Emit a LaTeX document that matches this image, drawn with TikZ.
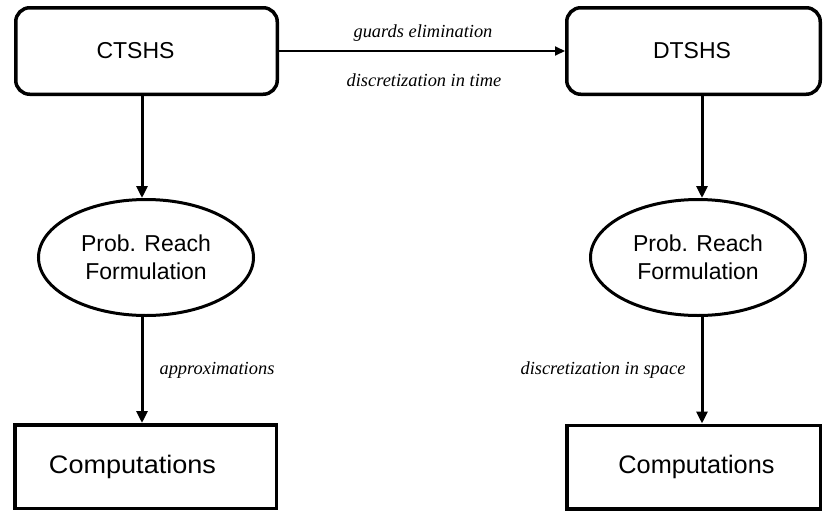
\documentclass[tikz,border=0pt]{standalone}
\usepackage{fontspec}
\usepackage{graphicx}
\setmainfont{Liberation Serif}
\setsansfont{Liberation Sans}
\usetikzlibrary{shapes.geometric,arrows.meta}
\begin{document}
\begin{tikzpicture}[x=1pt,y=-1pt,
  txt/.style={font=\sffamily\fontsize{23}{28}\selectfont},
  box/.style={draw, line width=3.5pt, minimum height=83.5pt, inner sep=0pt, font=\sffamily\fontsize{25.3}{30}\selectfont},
  rbox/.style={txt, draw, line width=3.5pt, inner sep=0pt, rounded corners=14pt, minimum height=86.5pt},
  ell/.style={txt, draw, ellipse, line width=3pt, minimum width=215pt, minimum height=116pt, inner sep=0pt, align=center},
  lab/.style={font=\itshape\fontsize{18.4}{22}\selectfont},
  arr/.style={-{Triangle[length=12pt,width=11pt]}, line width=3pt},
  harr/.style={-{Triangle[length=10pt,width=9pt]}, line width=2pt}]
\useasboundingbox (0,0) rectangle (823,515);
\node[rbox, minimum width=261.5pt] (ct) at (146.5,51) {\hspace*{-22pt}CTSHS};
\node[rbox, minimum width=253.5pt] (dt) at (693.5,51) {\hspace*{-3pt}DTSHS};
\node[ell] (pl) at (146,257.5) {Prob. Reach\\Formulation};
\node[ell] (pr) at (698,257.5) {Prob. Reach\\Formulation};
\node[box, minimum width=261.5pt] (cl) at (145.5,466.5) {\hspace*{-26pt}\scalebox{1.07}[1]{Computations}};
\node[box, minimum width=253.5pt] (cr) at (693.5,467) {\hspace*{6pt}Computations};
\draw[harr] (ct.east) -- (dt.west);
\draw[arr] (ct.south -| 142,0) -- (pl.north -| 142,0);
\draw[arr] (dt.south -| 702,0) -- (pr.north -| 702,0);
\draw[arr] (pl.south -| 142,0) -- (cl.north -| 142,0);
\draw[arr] (pr.south -| 702,0) -- (cr.north -| 702,0);
\node[lab] (l1) at (423,33) {guards elimination};
\node[lab] (l2) at (424,80) {discretization in time};
\node[lab] (l3) at (217,370) {approximations};
\node[lab] (l4) at (603,370) {discretization in space};
\end{tikzpicture}
\end{document}
